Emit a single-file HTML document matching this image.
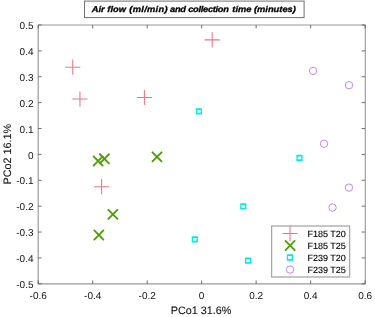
<!DOCTYPE html><html><head><meta charset="utf-8"><style>html,body{margin:0;padding:0;background:#fff;width:375px;height:317px;overflow:hidden}svg{display:block;will-change:transform}text{font-family:"Liberation Sans",sans-serif;text-rendering:geometricPrecision}</style></head><body>
<svg width="375" height="317" viewBox="0 0 375 317">
<path d="M38.2 25.0V283.8H365.1" fill="none" stroke="#999" stroke-width="1.2"/>
<path d="M38.2 25.0H365.1" fill="none" stroke="#999" stroke-width="1.15"/>
<path d="M365.25 24.5V284.3" fill="none" stroke="#8c8c8c" stroke-width="1.0"/>
<path d="M38.20 283.8v-3.4M38.20 25.0v3.4M92.68 283.8v-3.4M92.68 25.0v3.4M147.17 283.8v-3.4M147.17 25.0v3.4M201.65 283.8v-3.4M201.65 25.0v3.4M256.13 283.8v-3.4M256.13 25.0v3.4M310.62 283.8v-3.4M310.62 25.0v3.4M365.10 283.8v-3.4M365.10 25.0v3.4M38.2 283.80h3.4M365.1 283.80h-3.4M38.2 257.92h3.4M365.1 257.92h-3.4M38.2 232.04h3.4M365.1 232.04h-3.4M38.2 206.16h3.4M365.1 206.16h-3.4M38.2 180.28h3.4M365.1 180.28h-3.4M38.2 154.40h3.4M365.1 154.40h-3.4M38.2 128.52h3.4M365.1 128.52h-3.4M38.2 102.64h3.4M365.1 102.64h-3.4M38.2 76.76h3.4M365.1 76.76h-3.4M38.2 50.88h3.4M365.1 50.88h-3.4M38.2 25.00h3.4M365.1 25.00h-3.4" stroke="#606060" stroke-width="0.9" fill="none"/>
<text x="38.20" y="299.0" font-size="10" text-anchor="middle" fill="#111">-0.6</text>
<text x="92.68" y="299.0" font-size="10" text-anchor="middle" fill="#111">-0.4</text>
<text x="147.17" y="299.0" font-size="10" text-anchor="middle" fill="#111">-0.2</text>
<text x="201.65" y="299.0" font-size="10" text-anchor="middle" fill="#111">0</text>
<text x="256.13" y="299.0" font-size="10" text-anchor="middle" fill="#111">0.2</text>
<text x="310.62" y="299.0" font-size="10" text-anchor="middle" fill="#111">0.4</text>
<text x="365.10" y="299.0" font-size="10" text-anchor="middle" fill="#111">0.6</text>
<text x="33.5" y="288.00" font-size="10" text-anchor="end" fill="#111">-0.5</text>
<text x="33.5" y="262.12" font-size="10" text-anchor="end" fill="#111">-0.4</text>
<text x="33.5" y="236.24" font-size="10" text-anchor="end" fill="#111">-0.3</text>
<text x="33.5" y="210.36" font-size="10" text-anchor="end" fill="#111">-0.2</text>
<text x="33.5" y="184.48" font-size="10" text-anchor="end" fill="#111">-0.1</text>
<text x="33.5" y="158.60" font-size="10" text-anchor="end" fill="#111">0</text>
<text x="33.5" y="132.72" font-size="10" text-anchor="end" fill="#111">0.1</text>
<text x="33.5" y="106.84" font-size="10" text-anchor="end" fill="#111">0.2</text>
<text x="33.5" y="80.96" font-size="10" text-anchor="end" fill="#111">0.3</text>
<text x="33.5" y="55.08" font-size="10" text-anchor="end" fill="#111">0.4</text>
<text x="33.5" y="29.20" font-size="10" text-anchor="end" fill="#111">0.5</text>
<text x="201.1" y="314" font-size="10.8" text-anchor="middle" fill="#111" stroke="#111" stroke-width="0.1">PCo1 31.6%</text>
<text transform="translate(10.5 154.2) rotate(-90)" font-size="10.8" text-anchor="middle" fill="#111" stroke="#111" stroke-width="0.1">PCo2 16.1%</text>
<path d="M65.15 67.20H80.35M72.75 59.60V74.80" stroke="#ee7580" stroke-width="1.05" fill="none"/>
<path d="M72.35 99.00H87.55M79.95 91.40V106.60" stroke="#ee7580" stroke-width="1.05" fill="none"/>
<path d="M136.80 97.50H152.00M144.40 89.90V105.10" stroke="#ee7580" stroke-width="1.05" fill="none"/>
<path d="M204.60 39.85H219.80M212.20 32.25V47.45" stroke="#ee7580" stroke-width="1.05" fill="none"/>
<path d="M94.00 186.70H109.20M101.60 179.10V194.30" stroke="#ee7580" stroke-width="1.05" fill="none"/>
<path d="M93.55 156.45L102.65 165.55M93.55 165.55L102.65 156.45" stroke="#4f9e06" stroke-width="1.9" stroke-linecap="round" fill="none"/>
<path d="M99.85 154.25L108.95 163.35M99.85 163.35L108.95 154.25" stroke="#4f9e06" stroke-width="1.9" stroke-linecap="round" fill="none"/>
<path d="M152.45 152.35L161.55 161.45M152.45 161.45L161.55 152.35" stroke="#4f9e06" stroke-width="1.9" stroke-linecap="round" fill="none"/>
<path d="M108.35 209.85L117.45 218.95M108.35 218.95L117.45 209.85" stroke="#4f9e06" stroke-width="1.9" stroke-linecap="round" fill="none"/>
<path d="M94.30 230.45L103.40 239.55M94.30 239.55L103.40 230.45" stroke="#4f9e06" stroke-width="1.9" stroke-linecap="round" fill="none"/>
<path fill-rule="evenodd" fill="#00eae6" d="M195.80 108.25h6.2v6.3h-6.2zM197.15 110.00h3.5v2.8h-3.5z"/>
<path fill-rule="evenodd" fill="#00eae6" d="M296.40 154.75h6.2v6.3h-6.2zM297.75 156.50h3.5v2.8h-3.5z"/>
<path fill-rule="evenodd" fill="#00eae6" d="M240.20 203.15h6.2v6.3h-6.2zM241.55 204.90h3.5v2.8h-3.5z"/>
<path fill-rule="evenodd" fill="#00eae6" d="M191.70 236.30h6.2v6.3h-6.2zM193.05 238.05h3.5v2.8h-3.5z"/>
<path fill-rule="evenodd" fill="#00eae6" d="M245.00 257.45h6.2v6.3h-6.2zM246.35 259.20h3.5v2.8h-3.5z"/>
<circle cx="313.05" cy="70.95" r="3.7" stroke="#bc88f2" stroke-width="1.0" fill="none"/>
<circle cx="349.00" cy="85.20" r="3.7" stroke="#bc88f2" stroke-width="1.0" fill="none"/>
<circle cx="324.05" cy="143.80" r="3.7" stroke="#bc88f2" stroke-width="1.0" fill="none"/>
<circle cx="348.95" cy="187.60" r="3.7" stroke="#bc88f2" stroke-width="1.0" fill="none"/>
<circle cx="332.55" cy="207.60" r="3.7" stroke="#bc88f2" stroke-width="1.0" fill="none"/>
<rect x="271.6" y="226.0" width="78.00" height="51.00" fill="#fff" stroke="#a8a8a8" stroke-width="1.3"/>
<path d="M282.40 233.40H297.60M290.00 225.80V241.00" stroke="#ee7580" stroke-width="1.05" fill="none"/>
<path d="M285.55 240.95L294.65 250.05M285.55 250.05L294.65 240.95" stroke="#4f9e06" stroke-width="1.9" stroke-linecap="round" fill="none"/>
<path fill-rule="evenodd" fill="#00eae6" d="M286.80 254.35h6.2v6.3h-6.2zM288.15 256.10h3.5v2.8h-3.5z"/>
<circle cx="290.00" cy="269.55" r="3.7" stroke="#bc88f2" stroke-width="1.0" fill="none"/>
<text x="307.5" y="236.60" font-size="9" fill="#000" stroke="#000" stroke-width="0.12">F185 T20</text>
<text x="307.5" y="248.70" font-size="9" fill="#000" stroke="#000" stroke-width="0.12">F185 T25</text>
<text x="307.5" y="260.70" font-size="9" fill="#000" stroke="#000" stroke-width="0.12">F239 T20</text>
<text x="307.5" y="272.60" font-size="9" fill="#000" stroke="#000" stroke-width="0.12">F239 T25</text>
<rect x="84.5" y="1.1" width="219.6" height="16.5" fill="#fff" stroke="#707070" stroke-width="1"/>
<g transform="scale(1.11 1)"><text y="12.0" font-size="8.38" font-weight="bold" font-style="italic" fill="#000" stroke="#000" stroke-width="0.3"><tspan x="82.70">Air flow </tspan><tspan x="116.49" letter-spacing="0.27">(ml/min)</tspan><tspan x="153.15" letter-spacing="-0.23">and</tspan><tspan x="169.55" letter-spacing="-0.27">collection</tspan><tspan x="209.28">time</tspan><tspan x="228.83">(minutes)</tspan></text></g>
</svg></body></html>
